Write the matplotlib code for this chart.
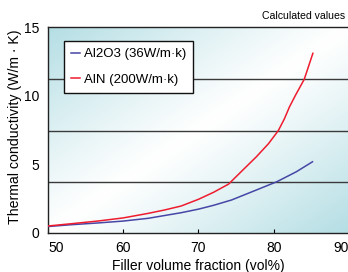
import numpy as np
import matplotlib
matplotlib.use("Agg")
import matplotlib.pyplot as plt
from matplotlib.colors import LinearSegmentedColormap

plt.rcParams["font.family"] = ["Liberation Sans", "DejaVu Sans"]

# values
al2o3_x = [50, 53, 56.6, 60, 63.3, 67.7, 70, 72, 74.4, 77.7, 80.4, 83, 85.15]
al2o3_y = [0.45, 0.58, 0.71, 0.85, 1.05, 1.46, 1.72, 2.0, 2.39, 3.12, 3.72, 4.45, 5.18]
aln_x = [50, 53, 56.6, 60, 63.3, 65.5, 67.7, 70, 72, 74, 75.9, 77.7, 79.3, 80.6,
         81.4, 82.1, 82.9, 84.05, 85.2]
aln_y = [0.49, 0.65, 0.85, 1.08, 1.41, 1.66, 1.95, 2.44, 2.95, 3.55, 4.58, 5.55, 6.5, 7.45,
         8.3, 9.2, 10.05, 11.2, 13.1]

grid_levels = [3.7, 7.45, 11.2]
x_ticks = [50, 60, 70, 80, 90]
y_ticks = [0, 5, 10, 15]

W, H = 348, 272
fig = plt.figure(figsize=(W / 100, H / 100), dpi=100)
ax = fig.add_axes([48 / W, 39.3 / H, 301 / W, 205.4 / H])

# background gradient: cyan top-left and bottom-right, white band in between
cmap = LinearSegmentedColormap.from_list("bg", ["#ffffff", "#b4dee4"])
gx, gy = np.meshgrid(np.linspace(0, 1, 300), np.linspace(1, 0, 200))
t = np.abs(gx - gy)
ax.imshow(t ** 1.1, extent=[50, 90, 0, 15], aspect="auto", cmap=cmap,
          vmin=0, vmax=1, zorder=0, interpolation="bilinear")

for g in grid_levels:
    ax.axhline(g, color="#3a3a3a", lw=1.0, zorder=1)

ax.plot(al2o3_x, al2o3_y, color="#4646a6", lw=1.1, label="Al2O3 (36W/m·k)", zorder=3)
ax.plot(aln_x, aln_y, color="#ee1c2e", lw=1.1, label="AlN (200W/m·k)", zorder=3)

ax.set_xlim(50, 90)
ax.set_ylim(0, 15)
ax.set_xticks(x_ticks)
ax.set_yticks(y_ticks)
ax.tick_params(axis="x", direction="in", length=3, width=0.8, pad=6, labelsize=10)
ax.tick_params(axis="y", length=0, pad=6, labelsize=10)
labels = ax.get_xticklabels()
labels[0].set_ha("left")
labels[-1].set_ha("right")

for s in ["left", "bottom", "top"]:
    ax.spines[s].set_color("#222222")
    ax.spines[s].set_linewidth(1.0)
ax.spines["right"].set_visible(False)

ax.set_xlabel("Filler volume fraction (vol%)", fontsize=10, labelpad=3)
ax.set_ylabel("Thermal conductivity (W/m · K)", fontsize=10.2)
ax.yaxis.set_label_coords(-0.085, 0.515)

leg = ax.legend(loc="upper left", bbox_to_anchor=(0.053, 0.935), fontsize=9.5,
                handlelength=0.7, handletextpad=0.25, labelspacing=1.0,
                borderpad=0.55, borderaxespad=0, fancybox=False, framealpha=1,
                edgecolor="#111111")
leg.get_frame().set_linewidth(1.0)

fig.text(345 / W, 1 - 16 / H, "Calculated values", fontsize=7.6, ha="right", va="center")

fig.savefig("out.png", dpi=100)
